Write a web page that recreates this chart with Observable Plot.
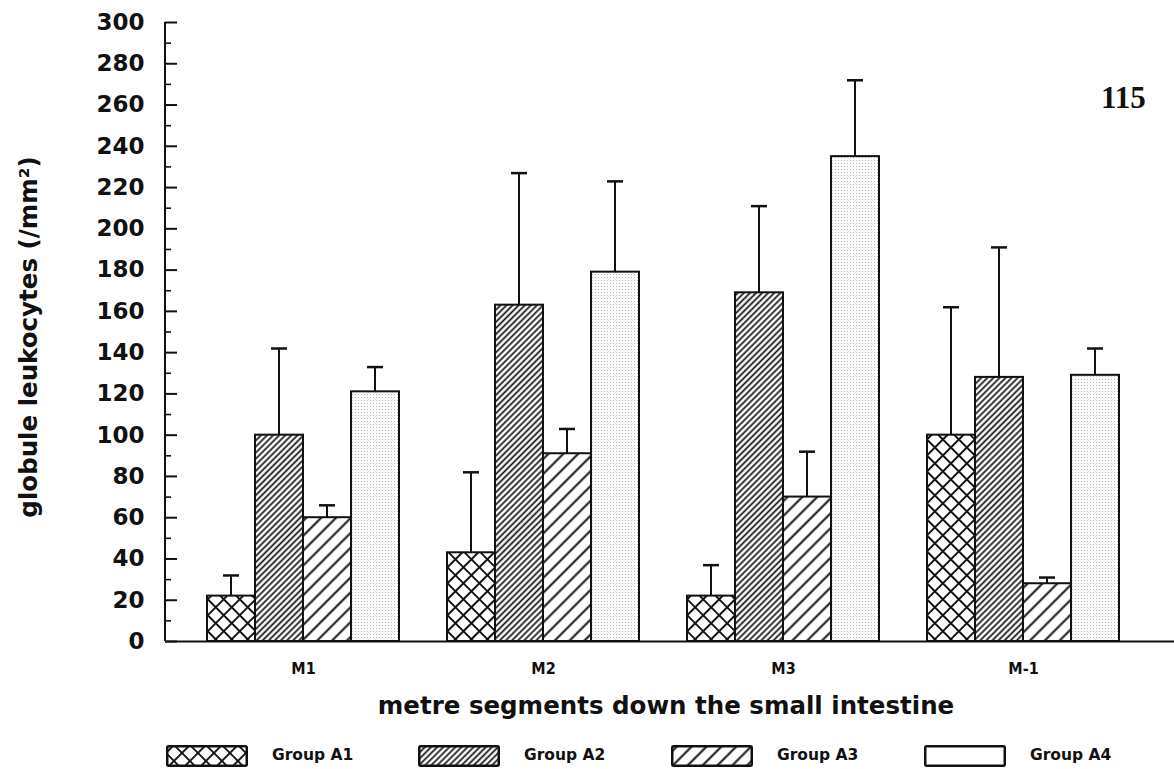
<!DOCTYPE html>
<html>
<head>
<meta charset="utf-8">
<script src="https://cdn.jsdelivr.net/npm/d3@7"></script>
<script src="https://cdn.jsdelivr.net/npm/@observablehq/plot@0.6"></script>
<style>
  body { margin: 0; background: #fff; }
  #page { position: relative; width: 1174px; height: 769px; overflow: hidden;
          font-family: "DejaVu Sans", sans-serif; font-weight: bold; color: #111; }
  #page svg.chart { position: absolute; left: 0; top: 0; }
  .ytitle { position: absolute; left: 28px; top: 337px; white-space: nowrap;
            font-size: 24.5px; transform: translate(-50%, -50%) rotate(-90deg); }
  .xtitle { position: absolute; left: 666px; top: 694px; white-space: nowrap;
            font-size: 24.5px; line-height: 24px; transform: translateX(-50%); }
  .folio { position: absolute; left: 1101px; top: 82px; font-family: "Liberation Serif", serif;
           font-size: 31px; line-height: 31px; font-weight: bold; }
  .swatch { position: absolute; top: 745px; }
  .key { position: absolute; top: 746px; font-size: 15.5px; line-height: 18px; white-space: nowrap; }
</style>
</head>
<body>
<div id="page"></div>
<script>
// Small-intestine segments and treatment groups
const segments = ["M1", "M2", "M3", "M-1"];
const groups = ["Group A1", "Group A2", "Group A3", "Group A4"];

// Mean globule leukocyte counts (/mm²) and standard errors per segment
const meanA1 = [22, 43, 22, 100];
const seA1   = [10, 39, 15, 62];
const meanA2 = [100, 163, 169, 128];
const seA2   = [42, 64, 42, 63];
const meanA3 = [60, 91, 70, 28];
const seA3   = [6, 12, 22, 3];
const meanA4 = [121, 179, 235, 129];
const seA4   = [12, 44, 37, 13];

// Y-axis ticks (labelled every 20, minor every 10)
const yMajor = [0, 20, 40, 60, 80, 100, 120, 140, 160, 180, 200, 220, 240, 260, 280, 300];
const yMinor = [10, 30, 50, 70, 90, 110, 130, 150, 170, 190, 210, 230, 250, 270, 290];

const means = [meanA1, meanA2, meanA3, meanA4];
const errors = [seA1, seA2, seA3, seA4];
const patternIds = ["fill-cross", "fill-fine", "fill-wide", "fill-dots"];

const rows = groups.map((g, gi) => segments.map((s, si) => ({
  group: g, segment: s, value: means[gi][si], upper: means[gi][si] + errors[gi][si]
})));

const W = 1174, H = 690;
const mLeft = 165, mRight = 0, mTop = 22, mBottom = 49;
const frameW = W - mLeft - mRight;
const step = 240, inner = 0.2, outer = 0.1;
const bandStart = 207;
const bw = step * (1 - inner) / groups.length;   // width of one bar inside a segment

const marks = [];
// error stems and caps
rows.forEach((r, gi) => {
  marks.push(Plot.barY(r, {
    x: "segment", y1: "value", y2: "upper", fill: "#111",
    insetLeft: bw * gi + bw / 2 - 1, insetRight: bw * (3 - gi) + bw / 2 - 1
  }));
  marks.push(Plot.tickY(r, {
    x: "segment", y: "upper", stroke: "#111", strokeWidth: 2.5,
    insetLeft: bw * gi + bw / 2 - 8, insetRight: bw * (3 - gi) + bw / 2 - 8
  }));
});
// patterned bars
rows.forEach((r, gi) => {
  marks.push(Plot.barY(r, {
    x: "segment", y1: 0, y2: "value",
    fill: `url(#${patternIds[gi]})`, stroke: "#111", strokeWidth: 2,
    insetLeft: bw * gi, insetRight: bw * (3 - gi)
  }));
});
// axis frame: left spine, baseline, inward ticks
marks.push(Plot.rect([0], {y1: 0, y2: 300, fill: "#111", insetLeft: -1, insetRight: frameW - 1}));
marks.push(Plot.ruleY([0], {stroke: "#111", strokeWidth: 2}));
marks.push(Plot.tickY(yMajor, {y: d => d, stroke: "#111", strokeWidth: 2, insetRight: frameW - 12}));
marks.push(Plot.tickY(yMinor, {y: d => d, stroke: "#111", strokeWidth: 1.6, insetRight: frameW - 6}));
marks.push(Plot.axisY(yMajor, {
  tickSize: 0, tickPadding: 21, label: null,
  fontSize: 23, fontWeight: "bold", fontFamily: "DejaVu Sans", fill: "#111"
}));
marks.push(Plot.axisX({
  tickSize: 0, tickPadding: 21, label: null,
  fontSize: 16, fontWeight: "bold", fontFamily: "DejaVu Sans Condensed", fill: "#111"
}));

const chart = Plot.plot({
  width: W, height: H,
  marginLeft: mLeft, marginRight: mRight, marginTop: mTop, marginBottom: mBottom,
  style: {background: "transparent", color: "#111", fontFamily: "DejaVu Sans"},
  x: {type: "band", domain: segments, paddingInner: inner, paddingOuter: outer,
      range: [bandStart - outer * step, bandStart - outer * step + step * (segments.length - inner + 2 * outer)]},
  y: {domain: [0, 300]},
  marks
});
chart.classList.add("chart");

// fill patterns used by bars and legend swatches
const defs = d3.select(chart).insert("defs", ":first-child");
function hatch(id, size, angle, paths, sw, bg) {
  const p = defs.append("pattern").attr("id", id).attr("patternUnits", "userSpaceOnUse")
    .attr("width", size).attr("height", size).attr("patternTransform", `rotate(${angle})`);
  p.append("rect").attr("width", size).attr("height", size).attr("fill", bg);
  p.append("path").attr("d", paths).attr("stroke", "#111").attr("stroke-width", sw).attr("fill", "none");
}
hatch("fill-cross", 11.3, 45, "M0,5.65H11.3M5.65,0V11.3", 2, "#fff");
hatch("fill-fine", 4.3, -45, "M0,2.15H4.3", 1.7, "#fff");
hatch("fill-wide", 10.5, -45, "M0,5.25H10.5", 2, "#fff");
const dots = defs.append("pattern").attr("id", "fill-dots").attr("patternUnits", "userSpaceOnUse")
  .attr("width", 3).attr("height", 3);
dots.append("rect").attr("width", 3).attr("height", 3).attr("fill", "#fbfbfb");
dots.append("rect").attr("x", 1).attr("y", 1).attr("width", 1).attr("height", 1).attr("fill", "#b8b8b8");

const page = document.getElementById("page");
page.appendChild(chart);

const ytitle = document.createElement("div");
ytitle.className = "ytitle";
ytitle.textContent = "globule leukocytes (/mm²)";
page.appendChild(ytitle);

const xtitle = document.createElement("div");
xtitle.className = "xtitle";
xtitle.textContent = "metre segments down the small intestine";
page.appendChild(xtitle);

const folio = document.createElement("div");
folio.className = "folio";
folio.textContent = "115";
page.appendChild(folio);

// legend row
const keyX = [166, 418, 671, 924];
const legendFills = ["url(#fill-cross)", "url(#fill-fine)", "url(#fill-wide)", "#fff"];
groups.forEach((g, gi) => {
  const sw = d3.create("svg").attr("class", "swatch").attr("width", 82).attr("height", 22)
    .style("left", `${keyX[gi]}px`);
  sw.append("rect").attr("x", 1.25).attr("y", 1.25).attr("width", 79.5).attr("height", 19.5)
    .attr("rx", 1.5).attr("fill", legendFills[gi]).attr("stroke", "#111").attr("stroke-width", 2.5);
  page.appendChild(sw.node());
  const t = document.createElement("div");
  t.className = "key";
  t.style.left = `${keyX[gi] + 106}px`;
  t.textContent = g;
  page.appendChild(t);
});
</script>
</body>
</html>
